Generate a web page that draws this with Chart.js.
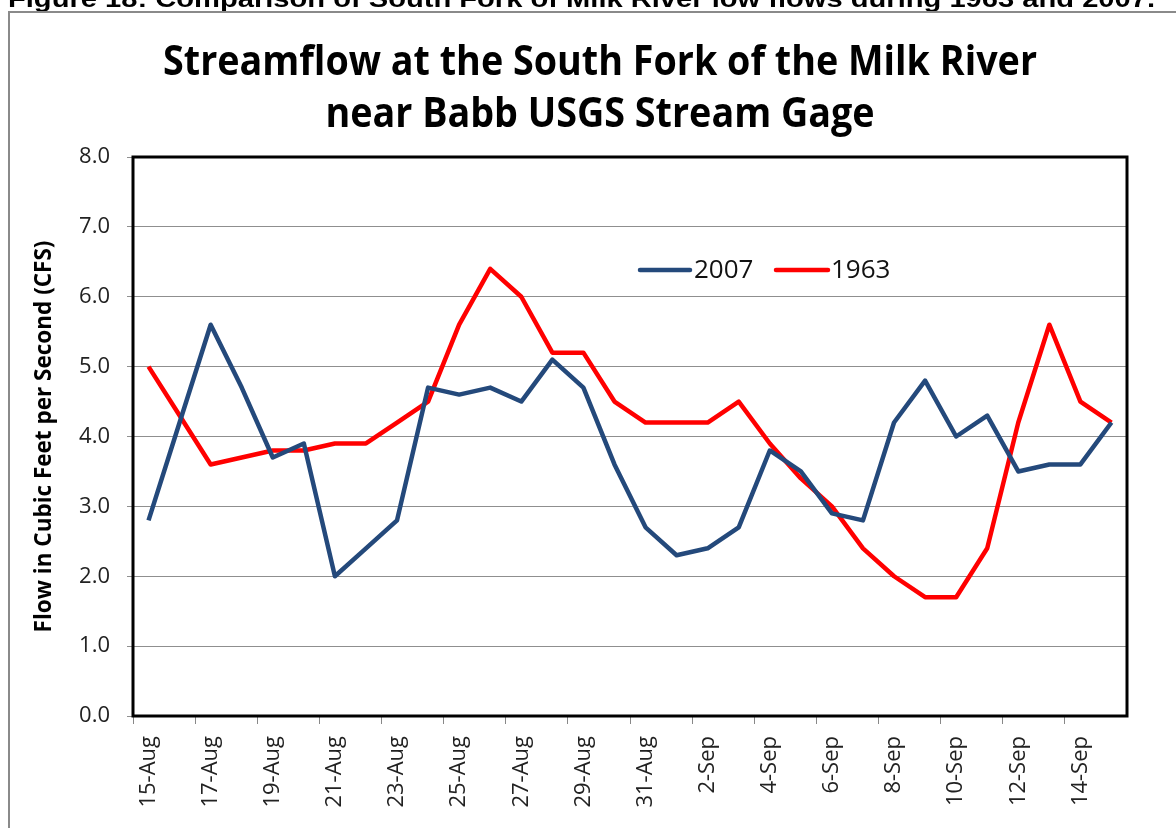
<!DOCTYPE html>
<html>
<head>
<meta charset="utf-8">
<title>Streamflow at the South Fork of the Milk River</title>
<script src="https://cdn.jsdelivr.net/npm/chart.js@4/dist/chart.umd.min.js"></script>
<style>
  html, body { margin: 0; padding: 0; background: #fff; }
  #wrap { width: 1176px; height: 828px; position: relative; }
</style>
</head>
<body>
<div id="wrap"><canvas id="flow" width="1176" height="828"></canvas></div>
<script>
// Daily dates, 15 Aug through 15 Sep
const days = [
  '15-Aug','16-Aug','17-Aug','18-Aug','19-Aug','20-Aug','21-Aug','22-Aug',
  '23-Aug','24-Aug','25-Aug','26-Aug','27-Aug','28-Aug','29-Aug','30-Aug',
  '31-Aug','1-Sep','2-Sep','3-Sep','4-Sep','5-Sep','6-Sep','7-Sep',
  '8-Sep','9-Sep','10-Sep','11-Sep','12-Sep','13-Sep','14-Sep','15-Sep'
];

// Mean daily flow (cfs)
const flow2007 = [
  2.8, 4.2, 5.6, 4.7, 3.7, 3.9, 2.0, 2.4,
  2.8, 4.7, 4.6, 4.7, 4.5, 5.1, 4.7, 3.6,
  2.7, 2.3, 2.4, 2.7, 3.8, 3.5, 2.9, 2.8,
  4.2, 4.8, 4.0, 4.3, 3.5, 3.6, 3.6, 4.2
];
const flow1963 = [
  5.0, 4.3, 3.6, 3.7, 3.8, 3.8, 3.9, 3.9,
  4.2, 4.5, 5.6, 6.4, 6.0, 5.2, 5.2, 4.5,
  4.2, 4.2, 4.2, 4.5, 3.9, 3.4, 3.0, 2.4,
  2.0, 1.7, 1.7, 2.4, 4.2, 5.6, 4.5, 4.2
];

const seriesNames = ['2007', '1963'];
const yTicks = { min: 0, max: 8, step: 1 };

const titleLines = ['Streamflow at the South Fork of the Milk River', 'near Babb USGS Stream Gage'];
const captionText = 'Figure 18: Comparison of South Fork of Milk River low flows during 1963 and 2007.';
const yTitle = 'Flow in Cubic Feet per Second (CFS)';

const BLUE = '#24497B';
const RED = '#FF0000';

// Page decoration: caption, outer frame, two-line title, inset legend, plot frame
const decor = {
  id: 'decor',
  beforeDraw(chart) {
    const ctx = chart.ctx;
    ctx.save();
    ctx.fillStyle = '#fff';
    ctx.fillRect(0, 0, chart.width, chart.height);

    // figure caption (runs off the top edge)
    ctx.fillStyle = '#000';
    ctx.textBaseline = 'alphabetic';
    ctx.textAlign = 'left';
    ctx.font = 'bold 24px "Liberation Sans", Arial, sans-serif';
    let w = ctx.measureText(captionText).width;
    ctx.save();
    ctx.translate(8, 7);
    ctx.scale(1147 / w, 1);
    ctx.fillText(captionText, 0, 0);
    ctx.restore();

    // outer chart frame
    ctx.strokeStyle = '#8a8a8a';
    ctx.lineWidth = 2;
    ctx.strokeRect(9, 12, chart.width + 20, chart.height + 20);

    // title
    ctx.font = 'bold 42px "Open Sans", sans-serif';
    ctx.textAlign = 'center';
    const w1 = ctx.measureText(titleLines[0]).width;
    const sx = 874 / w1;
    const baselines = [75, 127];
    titleLines.forEach((t, i) => {
      ctx.save();
      ctx.translate(600, baselines[i]);
      ctx.scale(sx, 1);
      ctx.fillText(t, 0, 0);
      ctx.restore();
    });
    ctx.restore();
  },
  afterDatasetsDraw(chart) {
    const ctx = chart.ctx;
    const area = chart.chartArea;
    ctx.save();
    // plot frame
    ctx.strokeStyle = '#000';
    ctx.lineWidth = 3;
    ctx.strokeRect(area.left, area.top, area.right - area.left, area.bottom - area.top);

    // legend inside the plot
    const items = [
      { x0: 640, x1: 690, tx: 694 },
      { x0: 776, x1: 828, tx: 831 }
    ];
    ctx.font = '26px "Open Sans", sans-serif';
    ctx.textAlign = 'left';
    ctx.textBaseline = 'middle';
    const ly = 270;
    chart.data.datasets.forEach((ds, i) => {
      const it = items[i];
      ctx.strokeStyle = ds.borderColor;
      ctx.lineWidth = ds.borderWidth;
      ctx.lineCap = 'round';
      ctx.beginPath();
      ctx.moveTo(it.x0, ly);
      ctx.lineTo(it.x1, ly);
      ctx.stroke();
      ctx.fillStyle = '#111';
      ctx.fillText(ds.label, it.tx, ly + 1);
    });
    ctx.restore();
  }
};

new Chart(document.getElementById('flow'), {
  type: 'line',
  data: {
    labels: days,
    datasets: [
      { label: seriesNames[0], data: flow2007, borderColor: BLUE, backgroundColor: BLUE, borderWidth: 4.5, pointRadius: 0, tension: 0, borderJoinStyle: 'round' },
      { label: seriesNames[1], data: flow1963, borderColor: RED, backgroundColor: RED, borderWidth: 4.5, pointRadius: 0, tension: 0, borderJoinStyle: 'round' }
    ]
  },
  options: {
    responsive: false,
    animation: false,
    devicePixelRatio: 1,
    layout: { padding: { top: 157, right: 49, bottom: 0, left: 0 } },
    plugins: {
      legend: { display: false },
      title: { display: false },
      tooltip: { enabled: false }
    },
    scales: {
      x: {
        type: 'category',
        offset: true,
        border: { display: false },
        grid: {
          offset: true,
          drawOnChartArea: false,
          drawTicks: true,
          tickLength: 8,
          lineWidth: 1,
          color: (c) => (c.index % 2 === 0 ? '#888' : 'rgba(0,0,0,0)')
        },
        ticks: {
          autoSkip: false,
          maxRotation: 90,
          minRotation: 90,
          padding: 12,
          color: '#222',
          font: { family: '"Open Sans", sans-serif', size: 22 },
          callback: function (v, i) { return i % 2 === 0 ? this.getLabelForValue(v) : ''; }
        },
        afterFit: (s) => { s.height = 112; }
      },
      y: {
        min: yTicks.min,
        max: yTicks.max,
        border: { display: false },
        grid: { color: '#8f8f8f', lineWidth: 1, tickLength: 6 },
        ticks: {
          stepSize: yTicks.step,
          padding: 17,
          color: '#222',
          font: { family: '"Open Sans", sans-serif', size: 22 },
          callback: (v) => Number(v).toFixed(1)
        },
        title: {
          display: true,
          text: yTitle,
          color: '#000',
          font: { family: '"Open Sans", sans-serif', size: 22.5, weight: 'bold' },
          padding: { top: 31, bottom: 0 }
        },
        afterFit: (s) => { s.width = 133; }
      }
    }
  },
  plugins: [decor]
});
</script>
</body>
</html>
